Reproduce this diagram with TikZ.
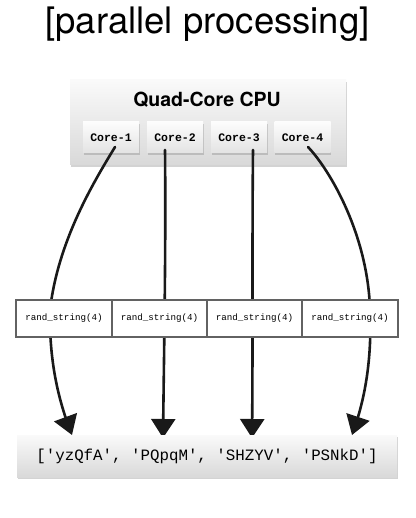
\documentclass[tikz,border=0pt]{standalone}
\usepackage{fontspec}
\setmainfont{TeX Gyre Heros}
\setmonofont{Liberation Mono}
\usetikzlibrary{arrows.meta,bending,shadows}
\begin{document}
\begin{tikzpicture}[x=1pt,y=-1pt,
  gbox/.style={draw=none, top color=gray!4, bottom color=gray!30,
    drop shadow={opacity=0.35, shadow xshift=0.6pt, shadow yshift=-1.6pt},
    inner sep=0pt, outer sep=0pt},
  corebox/.style={gbox, top color=gray!2, bottom color=gray!22,
    minimum width=56pt, minimum height=31pt,
    font=\ttfamily\bfseries\fontsize{11.5}{13}\selectfont},
  fnbox/.style={draw=gray!55!black!85, line width=1.6pt, fill=white,
    inner sep=0pt, outer sep=0pt, minimum width=95.5pt, minimum height=37pt,
    font=\ttfamily\fontsize{9.2}{11}\selectfont},
  flow/.style={black!90, line width=2.6pt, line cap=round,
    -{Triangle[length=19pt, width=24pt, flex]}}]
\useasboundingbox (0,0) rectangle (415,518);
% title
\node (title) at (207.5,24) {\fontsize{36.5}{42}\selectfont[parallel processing]};
% CPU
\node[gbox, minimum width=276pt, minimum height=85pt] (cpu) at (208,122.5) {};
\node[font=\bfseries\fontsize{19.5}{22}\selectfont] (cpulabel) at (207,100) {Quad-Core CPU};
\node[corebox] (c1) at (111,137.5) {Core-1};
\node[corebox] (c2) at (175,137.5) {Core-2};
\node[corebox] (c3) at (239,137.5) {Core-3};
\node[corebox] (c4) at (302.5,137.5) {Core-4};
% arrow endpoints
\coordinate (s1) at (115,147);
\coordinate (s2) at (165,150);
\coordinate (s3) at (253,150);
\coordinate (s4) at (308,147);
\coordinate (m1) at (50,310);
\coordinate (m4) at (370,310);
\coordinate (e1) at (72,435);
\coordinate (e2) at (163,438);
\coordinate (e3) at (252,438);
\coordinate (e4) at (352,435);
% arrows
\draw[flow] (s1) .. controls (95,180) and (58,240) .. (m1)
  .. controls (49,360) and (58,400) .. (e1);
\draw[flow] (s2) .. controls (166,250) and (164,350) .. (e2);
\draw[flow] (s3) .. controls (252,250) and (253,350) .. (e3);
\draw[flow] (s4) .. controls (330,170) and (368,235) .. (m4)
  .. controls (372,360) and (365,400) .. (e4);
% function boxes
\node[fnbox] (f1) at (64,318.5) {rand\_string(4)};
\node[fnbox] (f2) at (159.5,318.5) {rand\_string(4)};
\node[fnbox] (f3) at (254.5,318.5) {rand\_string(4)};
\node[fnbox] (f4) at (350,318.5) {rand\_string(4)};
% result
\node[gbox, minimum width=380pt, minimum height=42pt,
  font=\ttfamily\fontsize{15.8}{18}\selectfont] (res) at (207,456)
  {['yzQfA', 'PQpqM', 'SHZYV', 'PSNkD']};
\end{tikzpicture}
\end{document}
